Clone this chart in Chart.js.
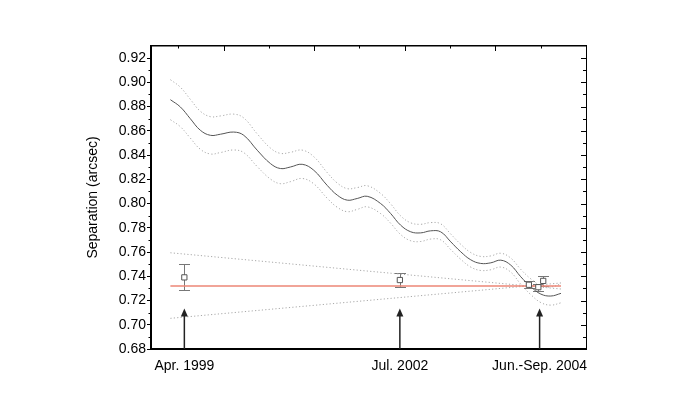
<!DOCTYPE html>
<html>
<head>
<meta charset="utf-8">
<script src="https://cdn.jsdelivr.net/npm/chart.js@4.4.0/dist/chart.umd.min.js"></script>
<style>
  body { margin: 0; background: #fff; }
  canvas { display: block; }
</style>
</head>
<body>
<canvas id="sepChart" width="700" height="407"></canvas>
<script>
// epochs are Julian dates, separations in arcsec

// --- orbit fit (solid) and its 1-sigma band (dotted) ---
let fitJD = [2451207, 2451262, 2451317, 2451372, 2451428, 2451483, 2451556, 2451612, 2451686, 2451759,
             2451814, 2451870, 2451934, 2451998, 2452072, 2452128, 2452183, 2452238, 2452293, 2452367,
             2452422, 2452477, 2452533, 2452588, 2452643, 2452698, 2452754, 2452809, 2452864, 2452919,
             2452975, 2453030, 2453085, 2453140, 2453196, 2453251, 2453306, 2453362];
let fitSep = [0.8857, 0.8797, 0.8700, 0.8605, 0.8563, 0.8572, 0.8590, 0.8563, 0.8440, 0.8330,
              0.8289, 0.8302, 0.8324, 0.8275, 0.8150, 0.8069, 0.8028, 0.8042, 0.8060, 0.8000,
              0.7918, 0.7822, 0.7767, 0.7758, 0.7775, 0.7767, 0.7684, 0.7602, 0.7536, 0.7506,
              0.7511, 0.7533, 0.7492, 0.7396, 0.7313, 0.7253, 0.7237, 0.7259];
let fitErr = [0.0165, 0.0163, 0.0160, 0.0157, 0.0154, 0.0151, 0.0148, 0.0143, 0.0135, 0.0128,
              0.0125, 0.0121, 0.0117, 0.0112, 0.0106, 0.0100, 0.0095, 0.0090, 0.0087, 0.0083,
              0.0080, 0.0077, 0.0074, 0.0071, 0.0068, 0.0066, 0.0064, 0.0062, 0.0060, 0.0058,
              0.0057, 0.0057, 0.0058, 0.0061, 0.0065, 0.0070, 0.0075, 0.0078];

// --- measurements ---
let obsJD  = [2451284, 2452473, 2453185, 2453237, 2453264];
let obsSep = [0.7391, 0.7369, 0.7330, 0.7310, 0.7362];
let obsErr = [0.0107, 0.0058, 0.0030, 0.0030, 0.0040];

// --- constant separation (red) and the linear cone (dotted) ---
let meanJD  = [2451207, 2453362];
let meanSep = [0.7319, 0.7319];
let coneUp  = [0.7594, 0.7295];
let coneLow = [0.7053, 0.7345];

// --- epoch arrows and labels ---
let arrowJD  = [2451284, 2452473, 2453244];
let arrowTip = [0.7135, 0.7135, 0.7135];
let epochLabels = ['Apr. 1999', 'Jul. 2002', 'Jun.-Sep. 2004'];

let yTicks = [0.68, 0.70, 0.72, 0.74, 0.76, 0.78, 0.80, 0.82, 0.84, 0.86, 0.88, 0.90, 0.92];
let jdTicks = [2451250, 2451500, 2451750, 2452000, 2452250, 2452500, 2452750, 2453000, 2453250, 2453500];

function pts(xs, ys) { return xs.map((v, i) => ({x: v, y: ys[i]})); }

let fontTxt = {family: '"Liberation Sans", Arial, sans-serif', size: 14};

let extras = {
  id: 'extras',
  beforeDatasetsDraw(chart) {
    const {ctx, scales: {x, y}} = chart;
    ctx.save();
    ctx.strokeStyle = '#777';
    ctx.lineWidth = 1;
    obsJD.forEach((jd, i) => {
      const px = Math.round(x.getPixelForValue(jd)) + 0.5;
      const t = Math.round(y.getPixelForValue(obsSep[i] + obsErr[i])) + 0.5;
      const b = Math.round(y.getPixelForValue(obsSep[i] - obsErr[i])) + 0.5;
      ctx.beginPath();
      ctx.moveTo(px, t); ctx.lineTo(px, b);
      ctx.moveTo(px - 5.5, t); ctx.lineTo(px + 5.5, t);
      ctx.moveTo(px - 5.5, b); ctx.lineTo(px + 5.5, b);
      ctx.stroke();
    });
    ctx.restore();
  },
  afterDraw(chart) {
    const {ctx, chartArea: a, scales: {x, y}} = chart;
    ctx.save();
    // arrows
    ctx.strokeStyle = '#222';
    ctx.fillStyle = '#222';
    ctx.lineWidth = 1.5;
    arrowJD.forEach((jd, i) => {
      const px = x.getPixelForValue(jd);
      const tip = y.getPixelForValue(arrowTip[i]);
      ctx.beginPath();
      ctx.moveTo(px, a.bottom); ctx.lineTo(px, tip + 5);
      ctx.stroke();
      ctx.beginPath();
      ctx.moveTo(px, tip); ctx.lineTo(px - 3.5, tip + 8); ctx.lineTo(px + 3.5, tip + 8);
      ctx.closePath(); ctx.fill();
    });
    // frame ticks
    ctx.strokeStyle = '#000';
    ctx.lineWidth = 1;
    ctx.beginPath();
    yTicks.forEach((v, i) => {
      const py = Math.round(y.getPixelForValue(v)) + 0.5;
      // right side, inward
      ctx.moveTo(a.right, py); ctx.lineTo(a.right - 5, py);
      if (i < yTicks.length - 1) {
        const pm = Math.round(y.getPixelForValue(v + 0.01)) + 0.5;
        ctx.moveTo(a.right, pm); ctx.lineTo(a.right - 3, pm);
        // left minor, outward
        ctx.moveTo(a.left, pm); ctx.lineTo(a.left - 2.5, pm);
      }
    });
    jdTicks.forEach(jd => {
      const px = Math.round(x.getPixelForValue(jd)) + 0.5;
      const len = jd % 500 === 0 ? 5 : 2.5;
      ctx.moveTo(px, a.top); ctx.lineTo(px, a.top + len);
    });
    ctx.stroke();
    ctx.restore();
  }
};

let dotted = {borderColor: '#a8a8a8', borderWidth: 1, borderDash: [1.2, 2.2], pointRadius: 0, fill: false};

new Chart(document.getElementById('sepChart'), {
  type: 'line',
  data: {
    datasets: [
      {type: 'scatter', data: pts(obsJD, obsSep), pointStyle: 'rect', pointRadius: 3.7,
       borderColor: '#555', backgroundColor: '#fff', pointBorderWidth: 1, showLine: false},
      {data: pts(meanJD, meanSep), borderColor: '#ec8676', borderWidth: 1.5, pointRadius: 0},
      {data: pts(fitJD, fitSep), borderColor: '#555', borderWidth: 1, pointRadius: 0, tension: 0.4},
      Object.assign({data: pts(fitJD, fitSep.map((v, i) => v + fitErr[i])), tension: 0.4}, dotted),
      Object.assign({data: pts(fitJD, fitSep.map((v, i) => v - fitErr[i])), tension: 0.4}, dotted),
      Object.assign({data: pts(meanJD, coneUp)}, dotted),
      Object.assign({data: pts(meanJD, coneLow)}, dotted)
    ]
  },
  options: {
    responsive: false,
    animation: false,
    devicePixelRatio: 1,
    layout: {padding: 0},
    plugins: {legend: {display: false}, tooltip: {enabled: false}},
    scales: {
      x: {
        type: 'linear', position: 'bottom', min: 2451100, max: 2453500,
        afterFit: s => { s.height = 58; },
        afterBuildTicks: s => { s.ticks = arrowJD.map(v => ({value: v})); },
        grid: {drawOnChartArea: false, drawTicks: false},
        border: {display: true, color: '#000', width: 2},
        ticks: {autoSkip: false, maxRotation: 0, padding: 9, color: '#000', font: fontTxt,
                callback: (v, i) => epochLabels[i]}
      },
      x2: {
        type: 'linear', position: 'top', min: 2451100, max: 2453500,
        afterFit: s => { s.height = 46; },
        grid: {drawOnChartArea: false, drawTicks: false},
        border: {display: true, color: '#000', width: 1.5},
        ticks: {display: false}
      },
      y: {
        type: 'linear', position: 'left', min: 0.68, max: 0.93,
        afterFit: s => { s.width = 151; },
        afterBuildTicks: s => { s.ticks = yTicks.map(v => ({value: v})); },
        grid: {drawOnChartArea: false, drawTicks: true, tickLength: 4, tickColor: '#000', tickWidth: 1},
        border: {display: true, color: '#000', width: 2},
        ticks: {padding: 1, color: '#000', font: fontTxt, callback: v => v.toFixed(2)},
        title: {display: true, text: 'Separation (arcsec)', color: '#000', font: fontTxt,
                padding: {top: 85, bottom: 0}}
      },
      y2: {
        type: 'linear', position: 'right', min: 0.68, max: 0.93,
        afterFit: s => { s.width = 114; },
        grid: {drawOnChartArea: false, drawTicks: false},
        border: {display: true, color: '#000', width: 1},
        ticks: {display: false}
      }
    }
  },
  plugins: [extras]
});
</script>
</body>
</html>
